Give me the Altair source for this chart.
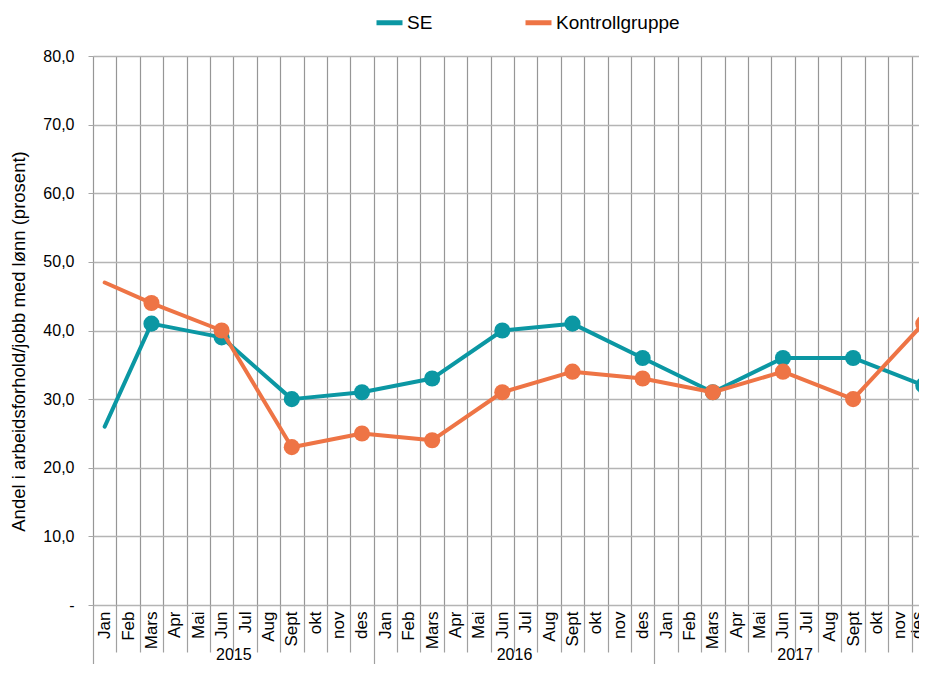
import altair as alt
import pandas as pd

# ---- data ----
months = ["Jan", "Feb", "Mars", "Apr", "Mai", "Jun", "Jul", "Aug", "Sept", "okt", "nov", "des"]
years = ["2015", "2016", "2017"]
obs_index = [0, 2, 5, 8, 11, 14, 17, 20, 23, 26, 29, 32, 35]   # month index (0 = Jan 2015)
se_values = [26, 41, 39, 30, 31, 33, 40, 41, 36, 31, 36, 36, 32]
kontroll_values = [47, 44, 40, 23, 25, 24, 31, 34, 33, 31, 34, 30, 41]
series_names = ["SE", "Kontrollgruppe"]
series_colors = ["#0B97A3", "#EE7445"]
y_ticks = [0, 10, 20, 30, 40, 50, 60, 70, 80]
y_title = "Andel i arbeidsforhold/jobb med lønn (prosent)"

# ---- layout ----
FONT = "Liberation Sans"
PLOT_W, PLOT_H = 842, 549
PAD_L, PAD_T = 85, 48
SVG_W, SVG_H = 911, 656
PAD_R = SVG_W - PAD_L - PLOT_W
PAD_B = SVG_H - PAD_T - PLOT_H
n_months = len(months) * len(years)

def frame(values, name, with_markers):
    rows = []
    for i, v in zip(obs_index, values):
        rows.append({"idx": i, "val": v, "s": name, "marker": i != 0})
    df = pd.DataFrame(rows)
    return df[df["marker"]] if with_markers else df

se_df = frame(se_values, series_names[0], False)
se_pts = frame(se_values, series_names[0], True)
k_df = frame(kontroll_values, series_names[1], False)
k_pts = frame(kontroll_values, series_names[1], True)

xscale = alt.Scale(domain=[-0.5, n_months - 0.5], nice=False, zero=False)
cscale = alt.Scale(domain=series_names, range=series_colors)

month_arr = "[" + ",".join("'%s'" % m for m in months) + "]"
year_arr = "[" + ",".join("'%s'" % y for y in years) + "]"

axis_months = alt.Axis(
    orient="bottom", values=list(range(n_months)),
    labelExpr=month_arr + "[datum.value % 12]",
    labelAngle=270, labelAlign="right", labelBaseline="middle",
    labelPadding=6, labelFontSize=17, labelFont=FONT, labelColor="#000000",
    labelOffset={"condition": {"test": "datum.value == %d" % (n_months - 1), "value": -6}, "value": 0},
    labelOverlap=False, labelBound=False, labelFlush=False,
    ticks=False, domain=False, grid=False, title=None,
)
axis_grid = alt.Axis(
    orient="bottom", values=[i - 0.5 for i in range(n_months + 1)],
    labels=False, domain=False, grid=True, gridColor="#969696", gridWidth=1.2,
    ticks=True, tickColor="#A0A0A0", tickWidth=1.2,
    tickSize={"condition": {"test": "(datum.value + 0.5) % 12 == 0", "value": 72}, "value": 47},
    title=None,
)
axis_years = alt.Axis(
    orient="bottom", values=[5.5, 17.5, 29.5],
    labelExpr=year_arr + "[floor(datum.value / 12)]",
    labelAngle=0, labelAlign="center", labelBaseline="middle",
    labelPadding=49, labelFontSize=16, labelFont=FONT, labelColor="#000000",
    labelOverlap=False, labelBound=False, labelFlush=False,
    ticks=False, domain=False, grid=False, title=None,
)

yaxis = alt.Axis(
    values=y_ticks,
    labelExpr="datum.value == 0 ? '-\u00a0\u00a0' : replace(format(datum.value, '.1f'), '.', ',')",
    labelFontSize=16, labelFont=FONT, labelColor="#000000", labelPadding=14,
    tickSize=5, tickColor="#A6A6A6", domain=False,
    grid=True, gridColor="#B4B4B4", gridWidth=1.3,
    title=y_title, titleFont=FONT, titleFontSize=18.5, titleFontWeight="normal",
    titleColor="#000000", titleAngle=270, titleX=-75, titleY=285,
    titleBaseline="middle", titleAlign="center",
)
Y = alt.Y("val:Q", scale=alt.Scale(domain=[0, 80], nice=False), axis=yaxis)

legend = alt.Legend(
    title=None, orient="none", direction="horizontal",
    legendX=374 - (8 + PAD_L), legendY=7 - (8 + PAD_T),
    symbolType="stroke", symbolStrokeWidth=5, symbolSize=676,
    labelFontSize=19, labelFont=FONT, labelColor="#000000",
    labelOffset=2, columnPadding=82,
)

line_props = dict(strokeWidth=4, strokeCap="round", strokeJoin="round")
pt_props = dict(size=260, opacity=1)

se_line = alt.Chart(se_df).mark_line(**line_props).encode(
    x=alt.X("idx:Q", scale=xscale, axis=axis_months), y=Y,
    color=alt.Color("s:N", scale=cscale, legend=legend),
)
se_mark = alt.Chart(se_pts).mark_circle(color=series_colors[0], **pt_props).encode(
    x=alt.X("idx:Q", scale=xscale, axis=axis_grid), y=Y,
)
k_line = alt.Chart(k_df).mark_line(**line_props).encode(
    x=alt.X("idx:Q", scale=xscale, axis=axis_years), y=Y,
    color=alt.Color("s:N", scale=cscale, legend=legend),
)
k_mark = alt.Chart(k_pts).mark_circle(color=series_colors[1], **pt_props).encode(
    x=alt.X("idx:Q", scale=xscale, axis=None), y=Y,
)

chart = (
    alt.layer(se_line, se_mark, k_line, k_mark)
    .resolve_axis(x="independent")
    .properties(
        width=PLOT_W, height=PLOT_H,
        autosize=alt.AutoSizeParams(type="none"),
        padding={"left": PAD_L, "top": PAD_T, "right": PAD_R, "bottom": PAD_B},
    )
    .configure_view(stroke=None)
    .configure(background="#FFFFFF")
)

chart.save("out.html", embed_options={"renderer": "svg", "actions": False})
